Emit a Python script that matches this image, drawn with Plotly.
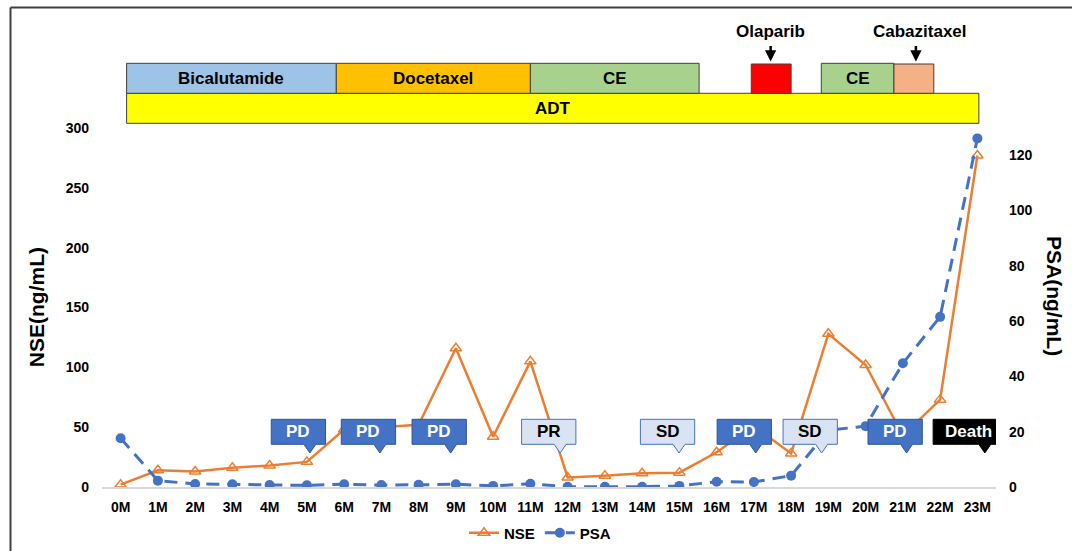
import plotly.graph_objects as go

# ---------------- data ----------------
months = [f"{i}M" for i in range(24)]
nse = [2, 14, 13, 16, 18, 21, 48, 50, 52, 116, 42, 105, 8, 9.5, 11.5, 12,
       29, 51, 28, 128, 102, 43, 73, 277]
psa = [17.6, 2.3, 1.1, 1.0, 0.7, 0.6, 1.0, 0.7, 0.8, 1.0, 0.4, 1.2, 0.1, 0.1,
       0.1, 0.4, 1.9, 1.8, 4.1, 20.5, 22, 44.7, 61.5, 126]

nse_ticks = [0, 50, 100, 150, 200, 250, 300]
psa_ticks = [0, 20, 40, 60, 80, 100, 120]

# treatment timeline (month positions)
treat_names = ["Bicalutamide", "Docetaxel", "CE", "Olaparib", "CE", "Cabazitaxel"]
treat_start = [0.16, 5.79, 11.0, 16.93, 18.81, 20.76]
treat_end = [5.79, 11.0, 15.53, 18.0, 20.76, 21.83]
treat_colors = ["#9DC3E6", "#FFC000", "#A9D18E", "#FF0000", "#A9D18E", "#F4B183"]
treat_label_inside = [True, True, True, False, True, False]
adt_start, adt_end = 0.16, 23.04

# response callouts (month where pointer tip sits)
callout_month = [5.08, 6.96, 8.86, 11.8, 14.99, 17.05, 18.82, 21.1, 23.2]
callout_label = ["PD", "PD", "PD", "PR", "SD", "PD", "SD", "PD", "Death"]

# ---------------- layout geometry ----------------
W, H = 1072, 551
ML, MR, MT, MB = 102, 76, 128, 64
PLOT_H = H - MT - MB


def py(pix):
    """pixel y -> paper y"""
    return (H - MB - pix) / PLOT_H


def px(pix):
    return (pix - ML) / (W - ML - MR)


FONT = "Liberation Sans, Arial, sans-serif"
ORANGE = "#ED7D31"
BLUE = "#4472C4"

fig = go.Figure()
fig.add_trace(go.Scatter(
    x=list(range(24)), y=nse, name="NSE", mode="lines+markers",
    line=dict(color=ORANGE, width=2.5),
    marker=dict(symbol="triangle-up-open", size=10, color=ORANGE, line=dict(width=1.5, color=ORANGE)),
    yaxis="y"))
fig.add_trace(go.Scatter(
    x=list(range(24)), y=psa, name="PSA", mode="lines+markers",
    line=dict(color=BLUE, width=3, dash="13px,8px"),
    marker=dict(symbol="circle", size=10, color=BLUE),
    yaxis="y2"))

shapes = []
annotations = []


def label(x, y, text, size=17, color="black", xref="x", yref="paper", angle=0):
    annotations.append(dict(x=x, y=y, xref=xref, yref=yref, text=f"<b>{text}</b>",
                            showarrow=False, xanchor="center", yanchor="middle",
                            textangle=angle, font=dict(family=FONT, size=size, color=color)))


# treatment bars
row_top, row_mid, row_bot = py(63.3), py(93.3), py(123.3)
shapes.append(dict(type="rect", xref="x", yref="paper", x0=adt_start, x1=adt_end,
                   y0=row_bot, y1=row_mid, fillcolor="#FFFF00",
                   line=dict(color="#404040", width=1)))
label((adt_start + adt_end) / 2, (row_bot + row_mid) / 2, "ADT")
for name, s, e, c, inside in zip(treat_names, treat_start, treat_end, treat_colors, treat_label_inside):
    top = row_top if inside else py(64)
    shapes.append(dict(type="rect", xref="x", yref="paper", x0=s, x1=e,
                       y0=row_mid, y1=top, fillcolor=c,
                       line=dict(color="#404040", width=1)))
    if inside:
        label((s + e) / 2, (row_mid + row_top) / 2, name)

# labels with arrows above Olaparib / Cabazitaxel
for name, xm, dx in [("Olaparib", 17.45, 0.0), ("Cabazitaxel", 21.35, 0.12)]:
    label(xm + dx, py(31.7), name)
    annotations.append(dict(x=xm, y=py(61.5), xref="x", yref="paper", text="",
                            showarrow=True, ax=0, ay=-17, arrowhead=2, arrowsize=0.9,
                            arrowwidth=2.5, arrowcolor="black"))

# callouts
ppm = (W - ML - MR) / 24.0  # pixels per month
y_top = (H - MB - 419.3) * 300 / PLOT_H
y_bot = (H - MB - 444.3) * 300 / PLOT_H
y_tip = (H - MB - 453.0) * 300 / PLOT_H
for m, lab in zip(callout_month, callout_label):
    if lab == "Death":
        left, right = m - 51.7 / ppm, m + 20 / ppm
        fill, border, tc = "#000000", "#000000", "white"
    elif lab == "PD":
        left, right = m - 38.6 / ppm, m + 15.7 / ppm
        fill, border, tc = BLUE, "#2F5597", "white"
    else:
        left, right = m - 38.6 / ppm, m + 15.7 / ppm
        fill, border, tc = "#DAE3F3", "#4472C4", "black"
    hw = 6 / ppm
    path = (f"M {left},{y_top} L {right},{y_top} L {right},{y_bot} "
            f"L {m + hw},{y_bot} L {m},{y_tip} L {m - hw},{y_bot} L {left},{y_bot} Z")
    shapes.append(dict(type="path", xref="x", yref="y", path=path, fillcolor=fill,
                       line=dict(color=border, width=1), layer="above"))
    label((left + right) / 2, (y_top + y_bot) / 2, lab, size=17, color=tc, yref="y")

# axis titles
label(px(36.7), 0.5, "NSE(ng/mL)", size=21, xref="paper", angle=-90)
label(px(1055), py(296), "PSA(ng/mL)", size=21, xref="paper", angle=90)

# outer frame lines
shapes.append(dict(type="line", xref="paper", yref="paper", x0=px(10.5), x1=px(1080),
                   y0=py(7.5), y1=py(7.5), line=dict(color="#404040", width=2)))
shapes.append(dict(type="line", xref="paper", yref="paper", x0=px(10.5), x1=px(10.5),
                   y0=py(7.5), y1=py(560), line=dict(color="#404040", width=2)))

tickfont = dict(family=FONT, size=14, color="black", weight="bold")
fig.update_layout(
    width=W, height=H,
    margin=dict(l=ML, r=MR, t=MT, b=MB, autoexpand=False),
    paper_bgcolor="white", plot_bgcolor="white",
    font=dict(family=FONT, color="black"),
    xaxis=dict(range=[-0.5, 23.5], tickvals=list(range(24)), ticktext=months,
               tickfont=tickfont, showgrid=False, zeroline=False, showline=True,
               linecolor="#D9D9D9", linewidth=2, ticks="", ticklabelstandoff=6,
               automargin=False),
    yaxis=dict(range=[0, 300], tickvals=nse_ticks, tickfont=tickfont, showgrid=False,
               zeroline=False, showline=False, ticklabelstandoff=12, automargin=False),
    yaxis2=dict(range=[0, 129.75], tickvals=psa_ticks,
                tickfont=tickfont, showgrid=False, zeroline=False, showline=False,
                overlaying="y", side="right", ticklabelstandoff=12, automargin=False),
    legend=dict(orientation="h", xref="container", yref="container",
                x=540 / W, xanchor="center", y=1 - 533 / H, yanchor="middle",
                font=dict(family=FONT, size=15, color="black", weight="bold"),
                bgcolor="rgba(0,0,0,0)", itemwidth=30),
    shapes=shapes, annotations=annotations, showlegend=True,
)

fig.write_html("out.html", config={"displayModeBar": False},
               post_script="document.body.style.margin='0';document.body.style.overflow='hidden';")
